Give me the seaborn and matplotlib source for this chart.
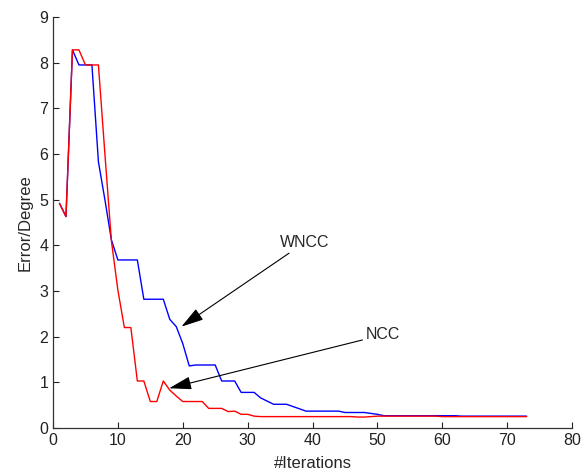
import numpy as np
import pandas as pd
import matplotlib
matplotlib.use("Agg")
import matplotlib.pyplot as plt
import seaborn as sns

# ==========================================
# DATA
# ==========================================

iterations = list(range(1, 74))

wncc = [4.92, 4.63, 8.28, 7.95, 7.95, 7.95, 5.83, 5.00, 4.12, 3.68,
        3.68, 3.68, 3.68, 2.82, 2.82, 2.82, 2.82, 2.38, 2.22, 1.85,
        1.36, 1.38, 1.38, 1.38, 1.38, 1.03, 1.03, 1.03, 0.78, 0.78,
        0.78, 0.66, 0.59, 0.52, 0.52, 0.52, 0.47, 0.42, 0.37, 0.37,
        0.37, 0.37, 0.37, 0.37, 0.34, 0.34, 0.34, 0.34, 0.32, 0.30,
        0.27, 0.27, 0.27, 0.27, 0.27, 0.27, 0.27, 0.27, 0.27, 0.27,
        0.27, 0.27, 0.26, 0.26, 0.26, 0.26, 0.26, 0.26, 0.26, 0.26,
        0.26, 0.26, 0.26]

ncc = [4.92, 4.63, 8.28, 8.28, 7.95, 7.95, 7.95, 6.00, 4.10, 3.02,
       2.20, 2.20, 1.03, 1.03, 0.58, 0.58, 1.03, 0.83, 0.70, 0.58,
       0.58, 0.58, 0.58, 0.43, 0.43, 0.43, 0.36, 0.37, 0.30, 0.30,
       0.26, 0.25, 0.25, 0.25, 0.25, 0.25, 0.25, 0.25, 0.25, 0.25,
       0.25, 0.25, 0.25, 0.25, 0.25, 0.25, 0.24, 0.24, 0.25, 0.26,
       0.26, 0.26, 0.26, 0.26, 0.26, 0.26, 0.26, 0.26, 0.26, 0.25,
       0.25, 0.25, 0.25, 0.25, 0.25, 0.25, 0.25, 0.25, 0.25, 0.25,
       0.25, 0.25, 0.25]

x_ticks = list(range(0, 81, 10))
y_ticks = list(range(0, 10))

df = pd.DataFrame({"iter": iterations, "WNCC": wncc, "NCC": ncc})

# ==========================================
# STYLE
# ==========================================

sns.set_style("ticks")
plt.rcParams["font.family"] = ["Liberation Sans", "DejaVu Sans"]
plt.rcParams["xtick.direction"] = "in"
plt.rcParams["ytick.direction"] = "in"

fig = plt.figure(figsize=(5.85, 4.75), dpi=100)
ax = fig.add_axes([0.0906, 0.0989, 0.8872, 0.8653])

sns.lineplot(data=df, x="iter", y="WNCC", color="#0000ff", lw=1.0, ax=ax)
sns.lineplot(data=df, x="iter", y="NCC", color="#ff0000", lw=1.0, ax=ax)

ax.set_xlim(0, 80)
ax.set_ylim(0, 9)
ax.set_xticks(x_ticks)
ax.set_yticks(y_ticks)
ax.tick_params(labelsize=11.5, length=4, width=0.8, colors="#222222")
for s in ["top", "right"]:
    ax.spines[s].set_visible(False)
for s in ["left", "bottom"]:
    ax.spines[s].set_color("#333333")
    ax.spines[s].set_linewidth(0.9)

ax.set_xlabel("#Iterations", fontsize=12, labelpad=6)
ax.set_ylabel("Error/Degree", fontsize=12, labelpad=5)

# ==========================================
# ANNOTATIONS
# ==========================================

arrow = dict(arrowstyle="-|>,head_length=1.2,head_width=0.35",
             color="k", lw=0.8, shrinkA=0, shrinkB=0)
ax.annotate("WNCC", xy=(19.8, 2.22), xytext=(35.0, 3.9),
            fontsize=11.5, ha="left", va="bottom", arrowprops=arrow)
ax.annotate("NCC", xy=(17.9, 0.87), xytext=(48.2, 2.04),
            fontsize=11.5, ha="left", va="center", arrowprops=arrow)

plt.savefig("out.png", dpi=100)
plt.close()
